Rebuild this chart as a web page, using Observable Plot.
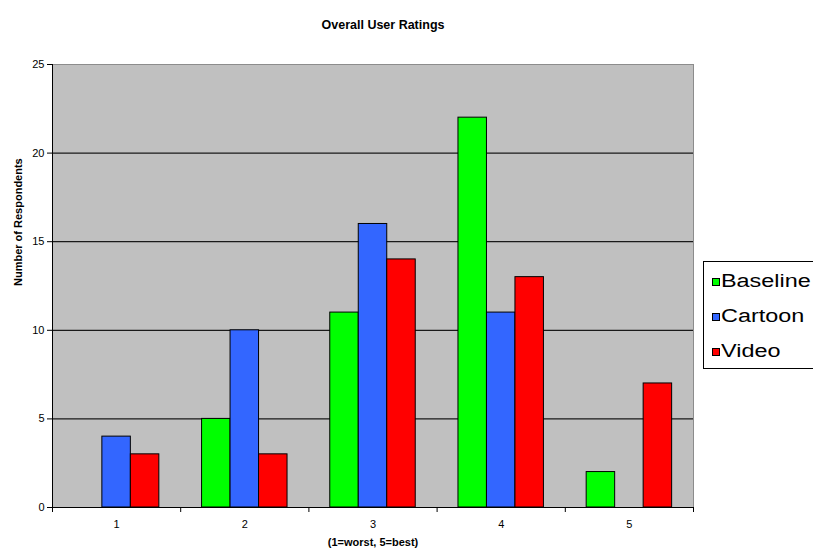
<!DOCTYPE html>
<html>
<head>
<meta charset="utf-8">
<script src="https://cdn.jsdelivr.net/npm/d3@7"></script>
<script src="https://cdn.jsdelivr.net/npm/@observablehq/plot@0.6"></script>
<style>
  html, body { margin: 0; padding: 0; background: #fff; }
  #chart { position: relative; width: 813px; height: 558px; overflow: hidden;
           font-family: Arial, "Liberation Sans", sans-serif; }
  #chart svg { display: block; }
  #legend { position: absolute; left: 703px; top: 261px; width: 150px; height: 108px;
            border: 1px solid #000; box-sizing: border-box; background: #fff; padding-top: 2px; }
  #legend .row { height: 35px; display: flex; align-items: center; font-size: 18px; color: #000; white-space: nowrap; }
  #legend .sw { width: 8px; height: 8px; border: 1px solid #000; box-sizing: border-box; margin: 0 1px 0 8px; flex: none; }
  #legend .lbl { display: inline-block; transform: scaleX(1.3); transform-origin: left center; }
</style>
</head>
<body>
<div id="chart"></div>
<script>
// Ratings on a 1–5 scale and respondent counts per interface variant
const categories = [1, 2, 3, 4, 5];
const series = ["Baseline", "Cartoon", "Video"];
const baseline = [0, 5, 11, 22, 2];
const cartoon = [4, 10, 16, 11, 0];
const video = [3, 3, 14, 13, 7];
const colors = ["#00ff00", "#3366ff", "#ff0000"];
const yTicks = [0, 5, 10, 15, 20, 25];
const gridValues = [5, 10, 15, 20];

const title = "Overall User Ratings";
const xLabel = "(1=worst, 5=best)";
const yLabel = "Number of Respondents";

// Clustered-column layout: gap between clusters is 150% of one bar's width
const gapWidth = 1.5;
const barW = 1 / (series.length + gapWidth);

const valuesBySeries = [baseline, cartoon, video];
const rows = [];
categories.forEach((c, i) => {
  series.forEach((s, j) => {
    const x1 = c - (series.length * barW) / 2 + j * barW;
    rows.push({category: c, series: s, value: valuesBySeries[j][i], x1, x2: x1 + barW});
  });
});
const bars = rows.filter(d => d.value > 0);

// Boundaries between rating clusters carry the x-axis tick marks
const boundaries = [categories[0] - 0.5, ...categories.map(c => c + 0.5)];

const W = 813, H = 558;
const plot = Plot.plot({
  width: W,
  height: H,
  marginLeft: 52,
  marginRight: 120,
  marginTop: 64,
  marginBottom: 51,
  style: {fontFamily: "Arial, 'Liberation Sans', sans-serif", fontSize: "11px", background: "#fff", color: "#000"},
  x: {domain: [boundaries[0], boundaries[boundaries.length - 1]], axis: null},
  y: {domain: [0, 25], axis: null},
  color: {domain: series, range: colors},
  marks: [
    Plot.frame({fill: "#c0c0c0", stroke: "#8c8c8c"}),
    Plot.ruleY(gridValues, {stroke: "#1a1a1a", strokeWidth: 1.2}),
    Plot.rectY(bars, {x1: "x1", x2: "x2", y: "value", fill: "series", stroke: "#000", strokeWidth: 1}),
    Plot.ruleY([0], {stroke: "#000"}),
    Plot.ruleX([boundaries[0]], {stroke: "#000"}),
    Plot.axisY({ticks: yTicks, tickSize: 5, tickPadding: 3, label: null, fontSize: 11}),
    Plot.axisX({ticks: boundaries, tickFormat: () => "", tickSize: 5, label: null}),
    Plot.axisX({ticks: categories, tickFormat: d => String(d), tickSize: 0, tickPadding: 13, label: null, fontSize: 11}),
    Plot.text([yLabel], {frameAnchor: "left", rotate: -90, dx: -34, fontWeight: "bold", fontSize: 11}),
    Plot.text([xLabel], {frameAnchor: "bottom", dy: 38, fontWeight: "bold", fontSize: 11}),
    Plot.text([title], {frameAnchor: "top", dy: -44, dx: 10, fontWeight: "bold", fontSize: 12.5})
  ]
});

const chart = document.getElementById("chart");
chart.appendChild(plot);

// Legend box to the right of the plot area
const legend = document.createElement("div");
legend.id = "legend";
series.forEach((s, j) => {
  const row = document.createElement("div");
  row.className = "row";
  const sw = document.createElement("span");
  sw.className = "sw";
  sw.style.background = colors[j];
  const label = document.createElement("span");
  label.className = "lbl";
  label.textContent = s;
  row.appendChild(sw);
  row.appendChild(label);
  legend.appendChild(row);
});
chart.appendChild(legend);
</script>
</body>
</html>
